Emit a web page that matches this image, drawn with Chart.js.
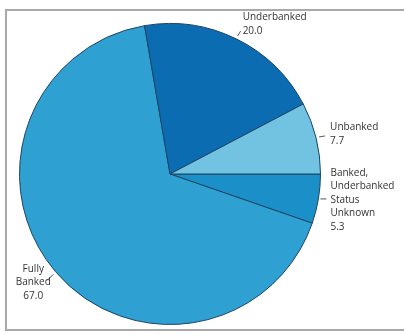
<!DOCTYPE html>
<html>
<head>
<meta charset="utf-8">
<script src="https://cdn.jsdelivr.net/npm/chart.js@4.4.1/dist/chart.umd.min.js"></script>
<style>
  html, body { margin: 0; padding: 0; background: #fff; overflow: hidden; }
  #wrap { position: relative; width: 404px; height: 335px; }
  #frame { position: absolute; left: 5px; top: 9px; width: 420px; height: 322px;
           border: 2px solid #a9a9a9; box-sizing: border-box; }
  canvas { position: absolute; left: 0; top: 0; }
</style>
</head>
<body>
<div id="wrap">
  <div id="frame"></div>
  <canvas id="pieCanvas" width="404" height="335"></canvas>
</div>
<script>
// slices, clockwise from 3 o'clock
var categories = ['Banked, Underbanked Status Unknown', 'Fully Banked', 'Underbanked', 'Unbanked'];
var shares = [5.3, 67.0, 20.0, 7.7];
var label_lines = [
    ['Banked,', 'Underbanked', 'Status', 'Unknown', '5.3'],
    ['Fully', 'Banked', '67.0'],
    ['Underbanked', '20.0'],
    ['Unbanked', '7.7']
];
var colors = ['#1b8fc8', '#2fa0d2', '#0b6cb2', '#72c2e2'];

// where each text block goes relative to the slice's outer midpoint
var label_pos = [
    { dx: 12, dy: 1, align: 'left', lead: [2, 0, 8, 0] },
    { dx: -22, dy: 11, align: 'center', lead: [-2, 3, -8, 9] },
    { dx: 6, dy: -15, align: 'left', lead: [1, -3, 4, -8] },
    { dx: 14, dy: -4, align: 'left', lead: [3, -1, 9, -2] }
];

var outside_labels = {
    id: 'outside_labels',
    afterDatasetsDraw: function(chart) {
        var ctx = chart.ctx;
        var meta = chart.getDatasetMeta(0);
        ctx.save();
        ctx.font = '10px "Open Sans", sans-serif';
        ctx.fillStyle = '#333';
        ctx.strokeStyle = '#555';
        ctx.lineWidth = 1;
        ctx.textBaseline = 'middle';
        for (let i = 0; i < meta.data.length; i++) {
            let p = meta.data[i].getProps(['x', 'y', 'startAngle', 'endAngle', 'outerRadius'], true);
            let mid = (p.startAngle + p.endAngle) / 2;
            let ox = p.x + Math.cos(mid) * p.outerRadius;
            let oy = p.y + Math.sin(mid) * p.outerRadius;
            let pos = label_pos[i];
            ctx.beginPath();
            ctx.moveTo(ox + pos.lead[0], oy + pos.lead[1]);
            ctx.lineTo(ox + pos.lead[2], oy + pos.lead[3]);
            ctx.stroke();
            let lines = label_lines[i];
            let lh = 13.5;
            let y0 = oy + pos.dy - (lines.length - 1) * lh / 2;
            ctx.textAlign = pos.align;
            for (let j = 0; j < lines.length; j++) {
                ctx.fillText(lines[j], ox + pos.dx, y0 + j * lh);
            }
        }
        ctx.restore();
    }
};

var pie_chart = new Chart(document.getElementById('pieCanvas'), {
    type: 'pie',
    data: {
        labels: categories,
        datasets: [{
            data: shares,
            backgroundColor: colors,
            borderColor: '#1d4464',
            borderWidth: 1
        }]
    },
    options: {
        responsive: false,
        animation: false,
        rotation: 90,
        layout: { padding: { left: 19, right: 83, top: 23, bottom: 10 } },
        plugins: {
            legend: { display: false },
            tooltip: { enabled: false }
        }
    },
    plugins: [outside_labels]
});
</script>
</body>
</html>
